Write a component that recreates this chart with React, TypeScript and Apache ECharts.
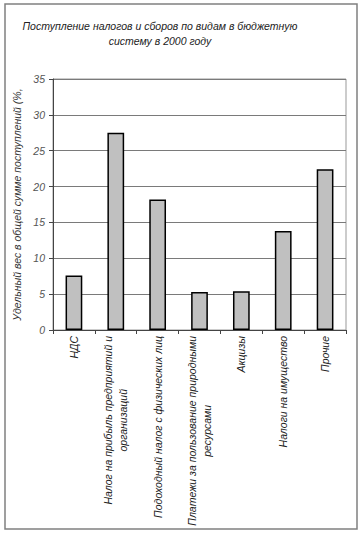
import React, { useEffect, useRef } from "react";
import * as echarts from "echarts";

const titleLines = [
  "Поступление налогов и сборов по видам в бюджетную",
  "систему в 2000 году",
];
const yAxisName = "Удельный вес в общей сумме поступлений (%,";
const categories = [
  "НДС",
  "Налог на прибыль предприятий и\nорганизаций",
  "Подоходный налог с физических лиц",
  "Платежи за пользование природными\nресурсами",
  "Акцизы",
  "Налоги на имущество",
  "Прочие",
];
const values = [7.6, 27.5, 18.2, 5.3, 5.4, 13.8, 22.4];
const yMin = 0;
const yMax = 35;
const yInterval = 5;

const FONT = "'Liberation Sans', Arial, sans-serif";
const FS = 10.5;

export default function App() {
  const ref = useRef<HTMLDivElement>(null);
  useEffect(() => {
    document.body.style.margin = "0";
    const chart = echarts.init(ref.current!, null, { renderer: "svg" });
    chart.setOption({
      animation: false,
      backgroundColor: "#ffffff",
      textStyle: { fontFamily: FONT },
      title: {
        text: titleLines.join("\n"),
        left: 155,
        top: 13,
        textAlign: "center",
        textStyle: {
          fontFamily: FONT,
          fontStyle: "italic",
          fontWeight: "normal",
          fontSize: FS,
          lineHeight: 15,
          color: "#222",
        },
      },
      graphic: [
        {
          type: "rect",
          shape: { x: 5, y: 4, width: 352, height: 525 },
          style: { fill: "none", stroke: "#808080", lineWidth: 1.5 },
          silent: true,
        },
      ],
      grid: { left: 53, right: 17, top: 79, bottom: 205, show: true, borderColor: "#999", borderWidth: 1 },
      xAxis: {
        type: "category",
        data: categories,
        axisLine: { lineStyle: { color: "#444", width: 1 } },
        axisTick: { show: true, alignWithLabel: false, length: 4, lineStyle: { color: "#444" } },
        axisLabel: {
          interval: 0,
          rotate: 90,
          margin: 6,
          color: "#222",
          fontFamily: FONT,
          fontStyle: "italic",
          fontSize: FS,
          lineHeight: 15,
          formatter: (v: string) =>
            v
              .split("\n")
              .map((l) => "{c|" + l + "}")
              .join("\n"),
          rich: {
            c: {
              align: "center",
              fontFamily: FONT,
              fontStyle: "italic",
              fontSize: FS,
              lineHeight: 15,
              color: "#222",
            },
          },
        },
      },
      yAxis: {
        type: "value",
        min: yMin,
        max: yMax,
        interval: yInterval,
        name: yAxisName,
        nameLocation: "middle",
        nameGap: 28,
        nameRotate: 90,
        nameTextStyle: {
          fontFamily: FONT,
          fontStyle: "italic",
          fontSize: FS,
          color: "#333",
        },
        axisLine: { show: true, lineStyle: { color: "#444", width: 1 } },
        axisTick: { show: true, length: 4, lineStyle: { color: "#444" } },
        axisLabel: {
          margin: 8,
          color: "#555",
          fontFamily: FONT,
          fontStyle: "italic",
          fontSize: FS,
        },
        splitLine: { show: true, lineStyle: { color: "#7a7a7a", width: 1 } },
      },
      series: [
        {
          type: "bar",
          data: values,
          barWidth: "40%",
          itemStyle: { color: "#c0c0c0", borderColor: "#000", borderWidth: 1.5 },
        },
      ],
    });
    return () => chart.dispose();
  }, []);
  return (
    <div
      ref={ref}
      style={{ position: "absolute", left: 0, top: 0, width: 363, height: 535 }}
    />
  );
}
